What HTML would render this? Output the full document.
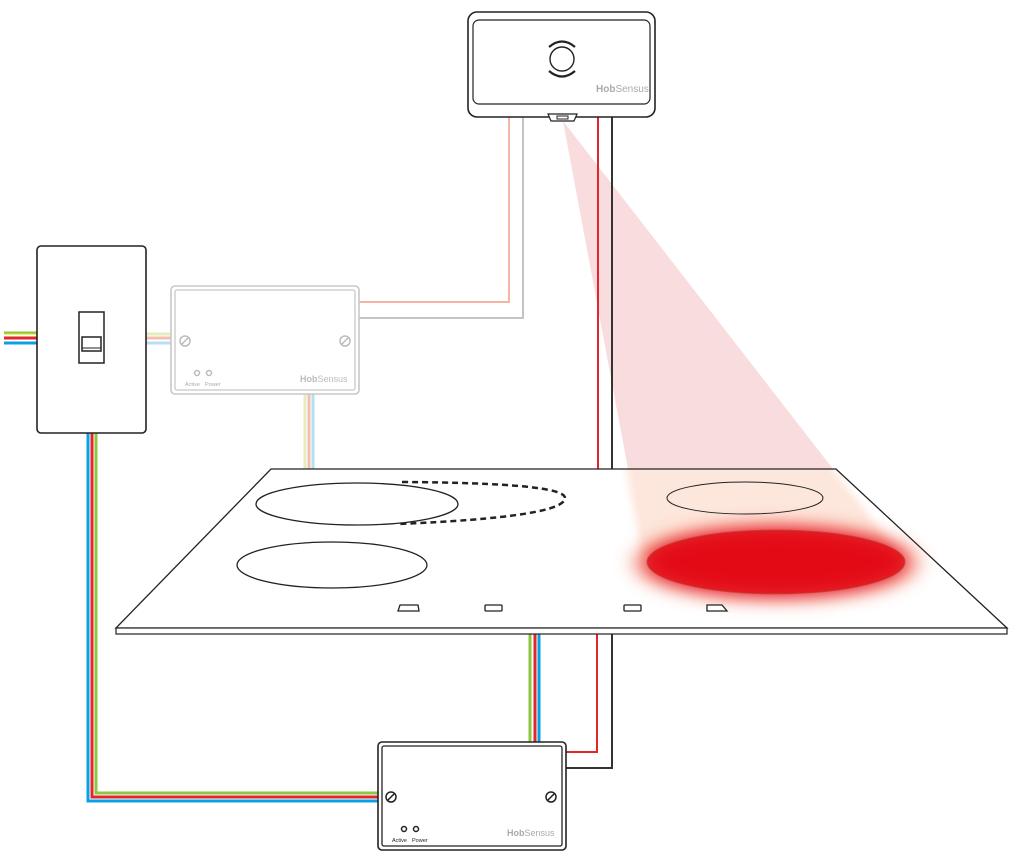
<!DOCTYPE html>
<html><head><style>body{margin:0;background:#fff}svg{display:block}text{font-family:"Liberation Sans",sans-serif}</style></head>
<body>
<svg width="1024" height="856" viewBox="0 0 1024 856" xmlns="http://www.w3.org/2000/svg">
<defs>
<filter id="bl" x="-30%" y="-100%" width="160%" height="300%"><feGaussianBlur stdDeviation="9"/></filter>
<filter id="bl2" x="-30%" y="-100%" width="160%" height="300%"><feGaussianBlur stdDeviation="4"/></filter>
<clipPath id="hobclip"><polygon points="271,469 836,469 1007,628 116,628"/></clipPath>
</defs>
<!-- cone -->
<polygon points="563,121 628,469 833,469" fill="#f9dcdd"/>
<g clip-path="url(#hobclip)">
<polygon points="563,121 642,555 905,562" fill="#fde6dc" filter="url(#bl2)"/>
</g>
<!-- wires -->
<g fill="none" stroke-width="2">
<polyline points="509,117 509,302 358,302" stroke="#f4b5a5"/>
<polyline points="523,117 523,318 358,318" stroke="#c4c4c4"/>
<polyline points="598,117 598,469" stroke="#e2262b"/>
<polyline points="612,117 612,469" stroke="#333"/>
<polyline points="597,634 597,752 566,752" stroke="#e2262b"/>
<polyline points="612,634 612,768 566,768" stroke="#333"/>
<line x1="4" y1="333" x2="37" y2="333" stroke="#8dc63f" stroke-width="3"/>
<line x1="4" y1="334" x2="37" y2="334" stroke="#e2e000" stroke-width="1"/>
<line x1="4" y1="338" x2="37" y2="338" stroke="#e2262b" stroke-width="3"/>
<line x1="4" y1="343" x2="37" y2="343" stroke="#0aa0e4" stroke-width="3"/>
<line x1="146" y1="334" x2="172" y2="334" stroke="#e6ecc0" stroke-width="3"/>
<line x1="146" y1="338" x2="172" y2="338" stroke="#f5bfa8" stroke-width="3"/>
<line x1="146" y1="343" x2="172" y2="343" stroke="#b5dff5" stroke-width="3"/>
<line x1="305" y1="394" x2="305" y2="469" stroke="#e6ecc0" stroke-width="3"/>
<line x1="309" y1="394" x2="309" y2="469" stroke="#f5bfa8" stroke-width="3"/>
<line x1="313" y1="394" x2="313" y2="469" stroke="#b5dff5" stroke-width="3"/>
<polyline points="88,433 88,801 379,801" stroke="#0aa0e4" stroke-width="3"/>
<polyline points="92,433 92,797 379,797" stroke="#e2262b" stroke-width="3"/>
<polyline points="96,433 96,793 379,793" stroke="#8dc63f" stroke-width="3"/>
<line x1="530" y1="634" x2="530" y2="742" stroke="#8dc63f" stroke-width="3"/>
<line x1="535" y1="634" x2="535" y2="742" stroke="#e2262b" stroke-width="3"/>
<line x1="539" y1="634" x2="539" y2="742" stroke="#0aa0e4" stroke-width="3"/>
</g>
<!-- hob -->
<polygon points="271,469 836,469 1007,628 116,628" fill="none" stroke="#222" stroke-width="1.3"/>
<rect x="116" y="628" width="891" height="6" fill="#fff" stroke="#222" stroke-width="1.2"/>
<ellipse cx="357" cy="504" rx="101" ry="21" fill="none" stroke="#222" stroke-width="1.3"/>
<path d="M402,482 Q565,483 565,498 Q565,517 398,524" fill="none" stroke="#222" stroke-width="2.5" stroke-dasharray="6,4"/>
<ellipse cx="332" cy="565" rx="95" ry="23" fill="none" stroke="#222" stroke-width="1.3"/>
<ellipse cx="745" cy="498" rx="78" ry="16" fill="none" stroke="#222" stroke-width="1"/>
<ellipse cx="776" cy="563" rx="145" ry="38" fill="#f05030" opacity="0.5" filter="url(#bl)"/>
<ellipse cx="776" cy="562" rx="129" ry="32" fill="#e30613" filter="url(#bl)"/>
<ellipse cx="776" cy="562" rx="129" ry="32" fill="#e30d16" opacity="0.8" stroke="#b0442f" stroke-width="0.8"/>
<g fill="#fff" stroke="#222" stroke-width="1.3">
<path d="M400,605 L418,605 L419,611 L398,611 Z"/>
<rect x="485" y="605" width="17" height="6" rx="1"/>
<rect x="624" y="605" width="17" height="6" rx="1"/>
<path d="M707,605 L722,605 L727,611 L707,611 Z"/>
</g>
<!-- sensor -->
<rect x="468" y="12" width="187" height="105" rx="9" fill="#fff" stroke="#222" stroke-width="1.6"/>
<rect x="473" y="20" width="177" height="84" rx="6" fill="#fff" stroke="#222" stroke-width="1.2"/>
<path d="M548,114 L577,114 L574,121 L551,121 Z" fill="#fff" stroke="#222" stroke-width="1.2"/>
<rect x="557" y="116" width="11" height="3" fill="#fff" stroke="#222" stroke-width="1"/>
<circle cx="562" cy="59" r="12" fill="none" stroke="#222" stroke-width="1.4"/>
<path d="M549,47 Q562,36 575,47" fill="none" stroke="#222" stroke-width="2.2"/>
<path d="M549,71 Q562,82 575,71" fill="none" stroke="#222" stroke-width="2.2"/>
<text x="596" y="92" font-size="10" fill="#aaa"><tspan font-weight="bold">Hob</tspan>Sensus</text>
<!-- switch -->
<rect x="37" y="246" width="109" height="187" rx="4" fill="#fff" stroke="#222" stroke-width="1.6"/>
<rect x="79" y="312" width="25" height="51" fill="#fff" stroke="#222" stroke-width="1.5"/>
<rect x="82" y="337" width="19" height="14" fill="#fff" stroke="#222" stroke-width="1.5"/>
<line x1="82" y1="348" x2="101" y2="348" stroke="#222" stroke-width="1"/>
<!-- gray box -->
<rect x="171" y="286" width="188" height="108" rx="4" fill="#fff" stroke="#c8c8c8" stroke-width="1.6"/>
<rect x="175" y="290" width="180" height="100" rx="2" fill="none" stroke="#c8c8c8" stroke-width="1.3"/>
<g stroke="#bbb" fill="none" stroke-width="1.5">
<circle cx="185" cy="341" r="5"/><line x1="182" y1="344" x2="188" y2="338"/>
<circle cx="345" cy="341" r="5"/><line x1="342" y1="344" x2="348" y2="338"/>
<circle cx="197" cy="373" r="2.5"/><circle cx="209" cy="373" r="2.5"/>
</g>
<text x="185" y="386" font-size="5.5" fill="#aaa">Active</text>
<text x="205" y="386" font-size="5.5" fill="#aaa">Power</text>
<text x="300" y="382" font-size="9" fill="#bbb"><tspan font-weight="bold">Hob</tspan>Sensus</text>
<!-- bottom box -->
<rect x="378" y="742" width="188" height="108" rx="4" fill="#fff" stroke="#222" stroke-width="1.6"/>
<rect x="382" y="746" width="180" height="100" rx="2" fill="none" stroke="#222" stroke-width="1.3"/>
<g stroke="#222" fill="none" stroke-width="1.5">
<circle cx="391" cy="797" r="5"/><line x1="388" y1="800" x2="394" y2="794"/>
<circle cx="551" cy="797" r="5"/><line x1="548" y1="800" x2="554" y2="794"/>
<circle cx="404" cy="829" r="2.5"/><circle cx="416" cy="829" r="2.5"/>
</g>
<text x="392" y="842" font-size="5.5" fill="#222">Active</text>
<text x="412" y="842" font-size="5.5" fill="#222">Power</text>
<text x="507" y="836" font-size="9" fill="#aaa"><tspan font-weight="bold">Hob</tspan>Sensus</text>
</svg>
</body></html>
